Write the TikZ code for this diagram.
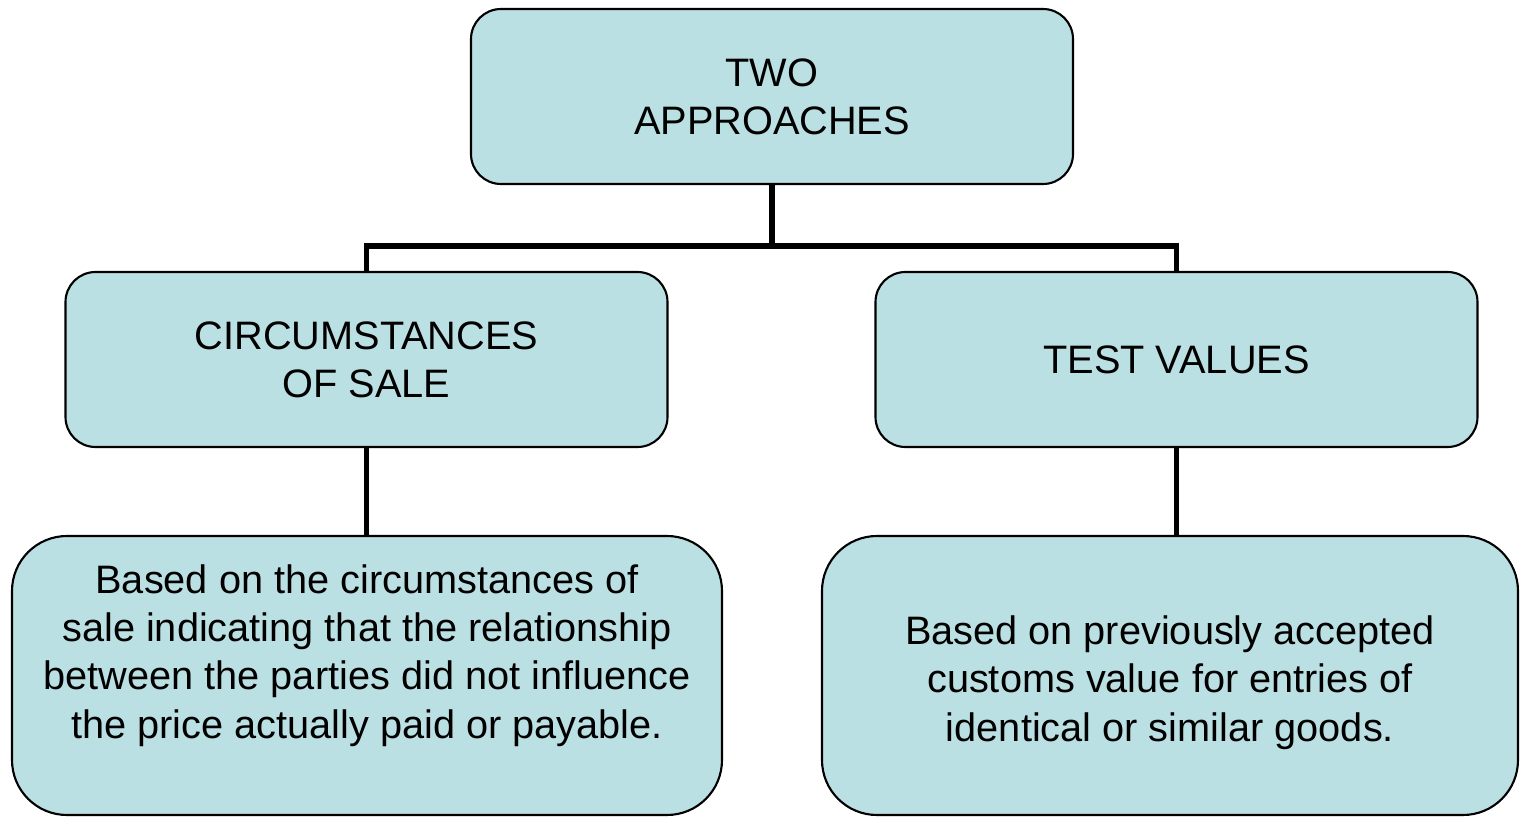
\documentclass[tikz,border=0pt]{standalone}
\usepackage{fontspec}
\setmainfont{Liberation Sans}
\usetikzlibrary{positioning,calc}
\definecolor{boxfill}{RGB}{187,224,227}
\tikzset{
  box/.style={draw=black,line width=0.6pt,fill=boxfill,rounded corners=0.3cm,align=center,
    font=\fontsize{11.3}{13.7}\selectfont,inner sep=0pt},
  headbox/.style={box,minimum width=6.02cm,minimum height=1.75cm},
  textbox/.style={box,rounded corners=0.55cm,minimum height=2.79cm},
  link/.style={line width=1.6pt}
}
\begin{document}
\begin{tikzpicture}[scale=1]
	\useasboundingbox (0,0) rectangle (15.20,-8.17);
	% links first, boxes on top
	\coordinate (bus) at (7.72,-2.46);
	\node[headbox] (top) at (7.72,-0.965) {TWO\\APPROACHES};
	\node[headbox] (circ) at (3.665,-3.595) {CIRCUMSTANCES\\OF SALE};
	\node[headbox] (test) at (11.765,-3.595) {TEST VALUES};
	\node[textbox,minimum width=7.10cm] (circtext) at (3.67,-6.755)
		{Based on the circumstances of\\sale indicating that the relationship\\between the parties did not influence\\the price actually paid or payable.\\\mbox{}};
	\node[textbox,minimum width=6.96cm] (testtext) at (11.70,-6.755)
		{\rule{0pt}{0.43cm}Based on previously accepted\\customs value for entries of\\identical or similar goods.};
	\draw[link] (top.south) -- (bus);
	\draw[link] (circ.north) |- (bus) -| (test.north);
	\draw[link] (circ.south) -- (circ.south |- circtext.north);
	\draw[link] (test.south) -- (test.south |- testtext.north);
\end{tikzpicture}
\end{document}
